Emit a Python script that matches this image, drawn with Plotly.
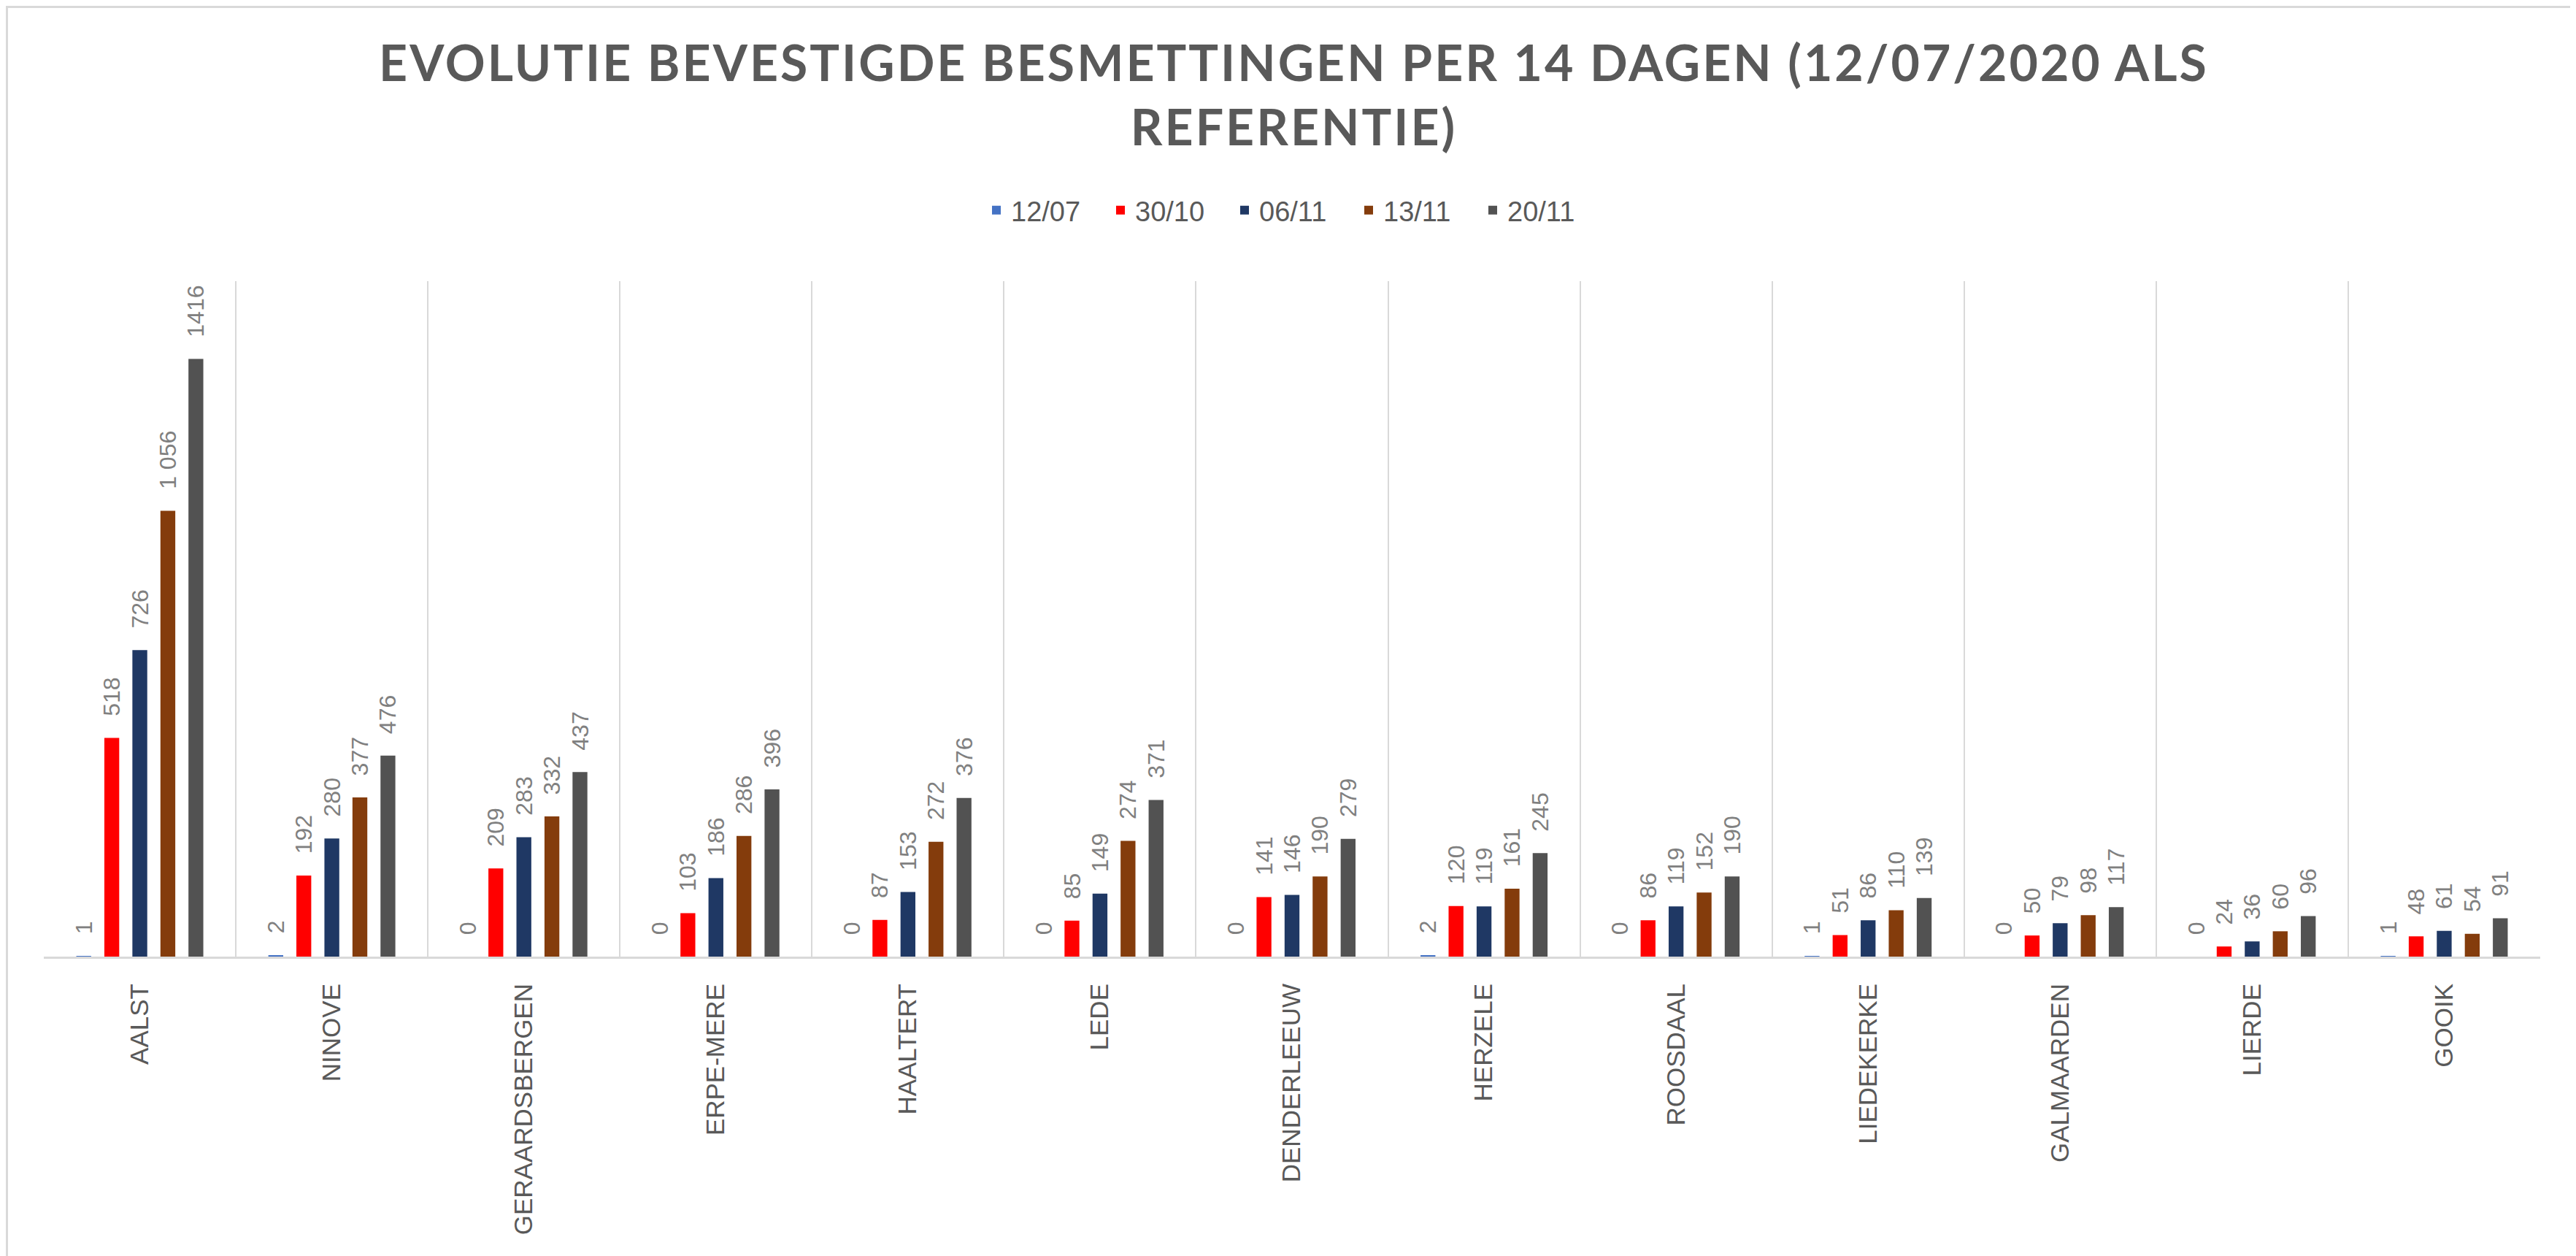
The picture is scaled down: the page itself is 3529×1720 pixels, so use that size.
import plotly.graph_objects as go

categories = ["AALST", "NINOVE", "GERAARDSBERGEN", "ERPE-MERE", "HAALTERT", "LEDE",
              "DENDERLEEUW", "HERZELE", "ROOSDAAL", "LIEDEKERKE", "GALMAARDEN", "LIERDE", "GOOIK"]

series_names = ["12/07", "30/10", "06/11", "13/11", "20/11"]
v_1207 = [1, 2, 0, 0, 0, 0, 0, 2, 0, 1, 0, 0, 1]
v_3010 = [518, 192, 209, 103, 87, 85, 141, 120, 86, 51, 50, 24, 48]
v_0611 = [726, 280, 283, 186, 153, 149, 146, 119, 119, 86, 79, 36, 61]
v_1311 = [1056, 377, 332, 286, 272, 274, 190, 161, 152, 110, 98, 60, 54]
v_2011 = [1416, 476, 437, 396, 376, 371, 279, 245, 190, 139, 117, 96, 91]

title_line1 = "EVOLUTIE BEVESTIGDE BESMETTINGEN PER 14 DAGEN (12/07/2020 ALS"
title_line2 = "REFERENTIE)"

colors = ["#4472C4", "#FF0000", "#1F3864", "#843C0C", "#525252"]
formats = ["%{y:d}", "%{y:d}", "%{y:d}", "%{y:,d}", "%{y:d}"]
values = [v_1207, v_3010, v_0611, v_1311, v_2011]

W, H = 3529, 1720
ML, MR, MT, MB = 52, 57, 377, 418
PW, PH = W - ML - MR, H - MT - MB

SPACING = "letter-spacing:3px"

fig = go.Figure()
for name, vals, col, fmt in zip(series_names, values, colors, formats):
    fig.add_trace(go.Bar(
        x=categories, y=vals, name=name,
        marker=dict(color=col, line=dict(width=0)),
        texttemplate="\u00a0\u00a0\u00a0" + fmt,
        textposition="outside", textangle=-90,
        textfont=dict(family="Liberation Sans", size=32, color="#808080"),
        constraintext="none", cliponaxis=False,
        hoverinfo="x+y+name",
    ))

fig.update_layout(
    width=W, height=H,
    paper_bgcolor="white", plot_bgcolor="white",
    margin=dict(l=ML, r=MR, t=MT, b=MB),
    barmode="group", bargap=0.27, bargroupgap=0.47,
    separators=", ",
    title=dict(
        text=(f'<span style="{SPACING}">{title_line1}</span><br>'
              f'<span style="{SPACING}">{title_line2}</span>'),
        x=0.5, xanchor="center", xref="container",
        y=1 - 103 / H, yanchor="middle", yref="container",
        font=dict(family="Lato", size=68, color="#595959", weight="bold"),
    ),
    legend=dict(
        orientation="h", x=0.5, xanchor="center",
        y=1 + (MT - 280) / PH, yanchor="middle",
        font=dict(family="Liberation Sans", size=38, color="#595959"),
        entrywidth=125, entrywidthmode="pixels",
        traceorder="normal",
    ),
    showlegend=True,
    xaxis=dict(
        type="category",
        showline=True, linecolor="#D9D9D9", linewidth=3,
        showgrid=True, gridcolor="#D9D9D9", gridwidth=2,
        tickson="boundaries", ticks="",
        tickangle=-90, ticklabelstandoff=20,
        tickfont=dict(family="Liberation Sans", size=35, color="#595959"),
        zeroline=False,
    ),
    yaxis=dict(
        range=[0, 1600], visible=True,
        showgrid=False, showticklabels=False, showline=False, zeroline=False, ticks="",
    ),
    shapes=[dict(
        type="rect", xref="paper", yref="paper",
        x0=(-ML + 1.5) / PW, x1=1 + (MR - 1.5) / PW,
        y0=-(MB - 1.5) / PH, y1=1 + (MT - 1.5) / PH,
        line=dict(color="#D9D9D9", width=3), fillcolor="rgba(0,0,0,0)", layer="below",
    )],
)

fig.write_html("out.html")
